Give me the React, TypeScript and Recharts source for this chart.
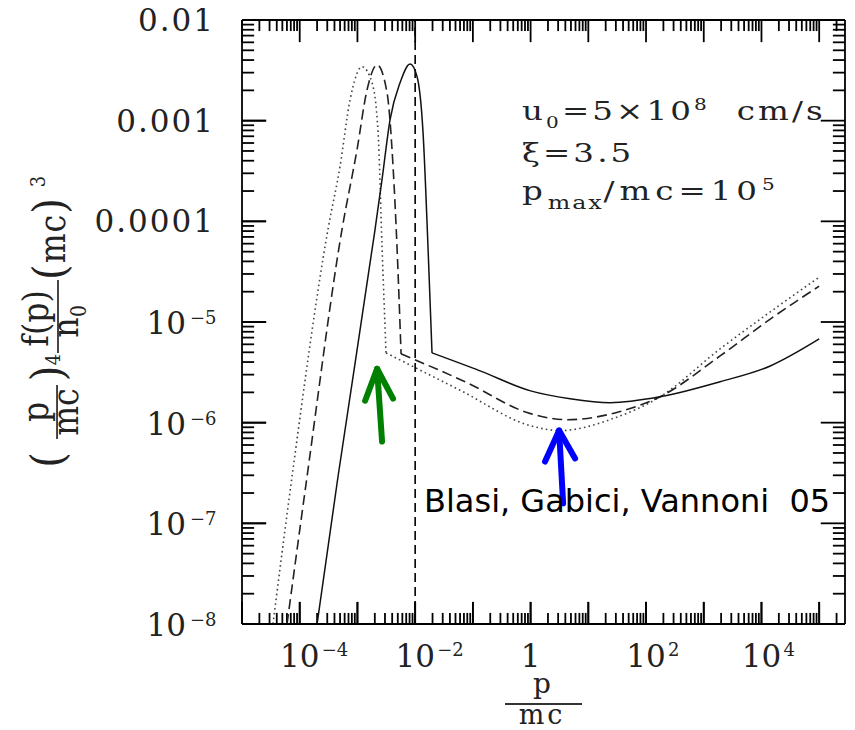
import React from 'react';
import { LineChart, Line, XAxis, YAxis, ReferenceLine } from 'recharts';

// ---------- axis ranges & ticks ----------
const X_MIN = 1e-5;
const X_MAX = 2.8e5;
const Y_MIN = 1e-8;
const Y_MAX = 1e-2;

const xDecades = [1e-5, 1e-4, 1e-3, 1e-2, 1e-1, 1, 10, 100, 1e3, 1e4, 1e5];
const yDecades = [1e-8, 1e-7, 1e-6, 1e-5, 1e-4, 1e-3, 1e-2];
const minorMultipliers = [2, 3, 4, 5, 6, 7, 8, 9];

const xLabelValues = [1e-4, 1e-2, 1, 1e2, 1e4];
const xLabelBase = ['10', '10', '1', '10', '10'];
const xLabelExp = ['\u22124', '\u22122', '', '2', '4'];

const yLabelValues = [1e-2, 1e-3, 1e-4, 1e-5, 1e-6, 1e-7, 1e-8];
const yLabelBase = ['0.01', '0.001', '0.0001', '10', '10', '10', '10'];
const yLabelExp = ['', '', '', '\u22125', '\u22126', '\u22127', '\u22128'];

// ---------- series ----------
// rising bump up to the break, then the power-law tail
const solidPeakX = [2.0e-4, 4.61e-4, 2.02e-3, 2.67e-3, 3.67e-3, 5.47e-3, 8.17e-3, 1.08e-2, 1.37e-2, 1.67e-2, 1.96e-2];
const solidPeakY = [1e-8, 2.92e-7, 8.34e-5, 2.61e-4, 1.02e-3, 2.38e-3, 3.66e-3, 2.73e-3, 7.6e-4, 5.53e-5, 4.93e-6];
const solidTailX = [1.96e-2, 0.133, 1.0, 4.84, 23.9, 175, 1920, 1.42e4, 1e5];
const solidTailY = [4.93e-6, 3.27e-6, 2.07e-6, 1.73e-6, 1.58e-6, 1.81e-6, 2.55e-6, 3.66e-6, 6.79e-6];

const dashedPeakX = [6.03e-5, 1.34e-4, 5.41e-4, 9.84e-4, 1.47e-3, 2.19e-3, 3.26e-3, 4.14e-3, 4.85e-3, 5.7e-3];
const dashedPeakY = [1e-8, 2.92e-7, 8.34e-5, 5.16e-4, 2.03e-3, 3.58e-3, 1.89e-3, 3.51e-4, 5.53e-5, 4.82e-6];
const dashedTailX = [5.7e-3, 7.33e-2, 1.0, 4.3, 35.6, 175, 1920, 1.42e4, 1e5];
const dashedTailY = [4.82e-6, 2.55e-6, 1.23e-6, 1.07e-6, 1.29e-6, 1.81e-6, 4.6e-6, 1.07e-5, 2.27e-5];

const dottedPeakX = [3.44e-5, 7.36e-5, 3.09e-4, 4.99e-4, 7.45e-4, 1.2e-3, 1.79e-3, 2.28e-3, 2.67e-3, 3.13e-3];
const dottedPeakY = [1e-8, 2.92e-7, 8.34e-5, 3.51e-4, 1.61e-3, 3.43e-3, 2.38e-3, 7.6e-4, 5.53e-5, 4.93e-6];
const dottedTailX = [3.13e-3, 6.0e-2, 1.0, 3.24, 26.9, 175, 1920, 1.42e4, 1e5];
const dottedTailY = [4.93e-6, 2.1e-6, 9.33e-7, 8.34e-7, 1.1e-6, 1.81e-6, 5.41e-6, 1.26e-5, 2.79e-5];

const shockMomentum = 0.01;

// arrows (data coordinates)
const greenShaftX = [2.67e-3, 2.19e-3];
const greenShaftY = [6.49e-7, 3.43e-6];
const greenHeadX = [1.36e-3, 2.19e-3, 4.14e-3];
const greenHeadY = [1.65e-6, 3.43e-6, 1.73e-6];
const blueShaftX = [3.66, 3.12];
const blueShaftY = [1.58e-7, 8.34e-7];
const blueHeadX = [1.78, 3.12, 5.9];
const blueHeadY = [4.11e-7, 8.34e-7, 4.41e-7];

// ---------- helpers ----------
const zip = (xs: number[], ys: number[]) => xs.map((x, i) => ({ x, y: ys[i] }));

const withMinors = (decades: number[], max: number) =>
  decades
    .flatMap((d) => [d, ...minorMultipliers.map((m) => m * d)])
    .filter((v) => v <= max * 1.0000001);
const xTicksAll = withMinors(xDecades, X_MAX);
const yTicksAll = withMinors(yDecades, Y_MAX);

const near = (a: number, b: number) => Math.abs(a - b) / Math.abs(b) < 1e-6;
const isDecade = (v: number) => {
  const l = Math.log10(v);
  return Math.abs(l - Math.round(l)) < 1e-6;
};

const SERIF = 'DejaVu Serif';
const INK = '#000';
const LABEL_FS = 31;
const EXP_FS = 18;
const TICK_W = 1.8;

// inward tick-mark lengths, expressed in decades of the perpendicular axis
const X_TICK_MAJOR_DEC = 0.22; // vertical marks on bottom/top frame
const X_TICK_MINOR_DEC = 0.11;
const Y_TICK_MAJOR_DEC = 0.42; // horizontal marks on left/right frame
const Y_TICK_MINOR_DEC = 0.21;

function XLabel(props: any) {
  const { x, y, payload } = props;
  const i = xLabelValues.findIndex((l) => near(l, payload.value));
  if (i < 0) return <g />;
  return (
    <g fill="#222" fontFamily={SERIF}>
      <text x={x} y={y + 43} textAnchor="middle" fontSize={LABEL_FS}>{xLabelBase[i]}</text>
      {xLabelExp[i] && (
        <text x={x + 22} y={y + 32} textAnchor="start" fontSize={EXP_FS}>{xLabelExp[i]}</text>
      )}
    </g>
  );
}

function YLabel(props: any) {
  const { x, y, payload } = props;
  const i = yLabelValues.findIndex((l) => near(l, payload.value));
  if (i < 0) return <g />;
  return yLabelExp[i] ? (
    <g fill="#222" fontFamily={SERIF}>
      <text x={x - 56} y={y + 12} textAnchor="end" fontSize={LABEL_FS}>{yLabelBase[i]}</text>
      <text x={x - 52} y={y + 2} textAnchor="start" fontSize={EXP_FS}>{yLabelExp[i]}</text>
    </g>
  ) : (
    <text x={x - 27} y={y + 11} textAnchor="end" fontSize={LABEL_FS} letterSpacing={2} fill="#222" fontFamily={SERIF}>
      {yLabelBase[i]}
    </text>
  );
}

function Overlay() {
  const t = { fontFamily: SERIF, fill: '#222' } as const;
  return (
    <svg width={855} height={730} style={{ position: 'absolute', left: 0, top: 0, pointerEvents: 'none' }}>
      {/* parameters */}
      <g transform="translate(522 120) scale(1.25 1)" {...t}>
        <text x={0} y={0} fontSize={26} letterSpacing={2.5}>
          <tspan>u</tspan>
          <tspan fontSize={16} dy={8}>0</tspan>
          <tspan dy={-8}>=5×10</tspan>
          <tspan fontSize={16} dy={-10}>8</tspan>
          <tspan dy={10}>{'\u00a0\u00a0cm/s'}</tspan>
        </text>
        <text x={0} y={42} fontSize={26} letterSpacing={2.5}>ξ=3.5</text>
        <text x={0} y={80} fontSize={26} letterSpacing={4}>
          <tspan>p</tspan>
          <tspan fontSize={19} dy={9} letterSpacing={1.5}>max</tspan>
          <tspan dy={-9}>/mc=10</tspan>
          <tspan fontSize={16} dy={-10}>5</tspan>
        </text>
      </g>
      {/* citation */}
      <text x={424} y={512} fontSize={32} fontFamily="DejaVu Sans" fill="#000">
        {'Blasi, Gabici, Vannoni\u00a0 05'}
      </text>
      {/* x title */}
      <text x={542} y={693} textAnchor="middle" fontSize={28} {...t}>p</text>
      <line x1={505} x2={582} y1={704} y2={704} stroke="#333" strokeWidth={1.8} />
      <text x={542} y={724} textAnchor="middle" fontSize={27} letterSpacing={3} {...t}>mc</text>
      {/* y title, rotated */}
      <g transform="translate(58 327) rotate(-90) scale(1.05 1.2)" {...t}>
        <text x={-126.7} y={4} textAnchor="middle" fontSize={38}>(</text>
        <text x={-81} y={-8} textAnchor="middle" fontSize={30}>p</text>
        <line x1={-106.7} x2={-55.2} y1={-0.8} y2={-0.8} stroke="#333" strokeWidth={1.5} />
        <text x={-81} y={17} textAnchor="middle" fontSize={30}>mc</text>
        <text x={-44.3} y={4} textAnchor="middle" fontSize={38}>)</text>
        <text x={-36.5} y={2} textAnchor="start" fontSize={17}>4</text>
        <text x={8.1} y={-8} textAnchor="middle" fontSize={30}>f(p)</text>
        <line x1={-24.8} x2={44.8} y1={0} y2={0} stroke="#333" strokeWidth={1.5} />
        <text x={-0.5} y={17} textAnchor="middle" fontSize={30}>n</text>
        <text x={9.5} y={23} textAnchor="start" fontSize={18}>0</text>
        <text x={44.8} y={6} textAnchor="start" fontSize={30} letterSpacing={1}>
          <tspan fontSize={38}>(</tspan>mc<tspan fontSize={38}>)</tspan>
        </text>
        <text x={133} y={-11} textAnchor="start" fontSize={17}>3</text>
      </g>
    </svg>
  );
}

const seriesLine = (id: string, data: { x: number; y: number }[], extra: any) => (
  <Line
    key={id}
    xAxisId="b"
    yAxisId="l"
    data={data}
    dataKey="y"
    dot={false}
    activeDot={false}
    isAnimationActive={false}
    {...extra}
  />
);

const seg = (key: string, a: { x: number; y: number }, b: { x: number; y: number }, w = TICK_W) => (
  <ReferenceLine key={key} xAxisId="b" yAxisId="l" segment={[a, b]} stroke={INK} strokeWidth={w} ifOverflow="visible" />
);

export default function App() {
  const dotted = { type: 'monotoneX', stroke: '#444', strokeWidth: 1.6, strokeDasharray: '1.6 3.2' };
  const dashed = { type: 'monotoneX', stroke: '#222', strokeWidth: 1.6, strokeDasharray: '10 5' };
  const solid = { type: 'monotoneX', stroke: '#111', strokeWidth: 1.5 };
  const green = { type: 'linear', stroke: '#008000', strokeWidth: 6, strokeLinecap: 'round', strokeLinejoin: 'round' };
  const blue = { type: 'linear', stroke: '#0000ff', strokeWidth: 6, strokeLinecap: 'round', strokeLinejoin: 'round' };

  const marks: React.ReactNode[] = [];
  xTicksAll.forEach((v) => {
    const f = Math.pow(10, isDecade(v) ? X_TICK_MAJOR_DEC : X_TICK_MINOR_DEC);
    marks.push(seg(`xb${v}`, { x: v, y: Y_MIN }, { x: v, y: Y_MIN * f }));
    marks.push(seg(`xt${v}`, { x: v, y: Y_MAX }, { x: v, y: Y_MAX / f }));
  });
  yTicksAll.forEach((v) => {
    const f = Math.pow(10, isDecade(v) ? Y_TICK_MAJOR_DEC : Y_TICK_MINOR_DEC);
    marks.push(seg(`yl${v}`, { x: X_MIN, y: v }, { x: X_MIN * f, y: v }));
    marks.push(seg(`yr${v}`, { x: X_MAX, y: v }, { x: X_MAX / f, y: v }));
  });

  return (
    <div style={{ position: 'relative', width: 855, height: 730, margin: '-8px 0 0 -8px' }}>
      <LineChart width={855} height={730} margin={{ top: 20, right: 10, bottom: 0, left: 0 }}>
        <XAxis
          xAxisId="b"
          type="number"
          dataKey="x"
          scale="log"
          domain={[X_MIN, X_MAX]}
          allowDataOverflow
          ticks={xDecades}
          interval={0}
          tickSize={-22}
          tickMargin={22}
          tickLine={{ stroke: INK, strokeWidth: TICK_W }}
          axisLine={{ stroke: INK, strokeWidth: 1.8 }}
          height={106}
          tick={(p: any) => <XLabel {...p} />}
        />
        <YAxis
          yAxisId="l"
          type="number"
          dataKey="y"
          scale="log"
          domain={[Y_MIN, Y_MAX]}
          allowDataOverflow
          ticks={yDecades}
          interval={0}
          tickSize={-24}
          tickMargin={24}
          tickLine={{ stroke: INK, strokeWidth: TICK_W }}
          axisLine={{ stroke: INK, strokeWidth: 1.8 }}
          width={242}
          tick={(p: any) => <YLabel {...p} />}
        />
        {/* top and right sides of the frame */}
        {seg('frameTop', { x: X_MIN, y: Y_MAX }, { x: X_MAX, y: Y_MAX }, 1.8)}
        {seg('frameRight', { x: X_MAX, y: Y_MIN }, { x: X_MAX, y: Y_MAX }, 1.8)}
        {marks}
        <ReferenceLine xAxisId="b" yAxisId="l" x={shockMomentum} stroke="#000" strokeWidth={1.6} strokeDasharray="9 5" />
        {seriesLine('dotPeak', zip(dottedPeakX, dottedPeakY), dotted)}
        {seriesLine('dotTail', zip(dottedTailX, dottedTailY), dotted)}
        {seriesLine('dashPeak', zip(dashedPeakX, dashedPeakY), dashed)}
        {seriesLine('dashTail', zip(dashedTailX, dashedTailY), dashed)}
        {seriesLine('solPeak', zip(solidPeakX, solidPeakY), solid)}
        {seriesLine('solTail', zip(solidTailX, solidTailY), solid)}
        {seriesLine('gShaft', zip(greenShaftX, greenShaftY), green)}
        {seriesLine('gHead', zip(greenHeadX, greenHeadY), green)}
        {seriesLine('bShaft', zip(blueShaftX, blueShaftY), blue)}
        {seriesLine('bHead', zip(blueHeadX, blueHeadY), blue)}
      </LineChart>
      <Overlay />
    </div>
  );
}
